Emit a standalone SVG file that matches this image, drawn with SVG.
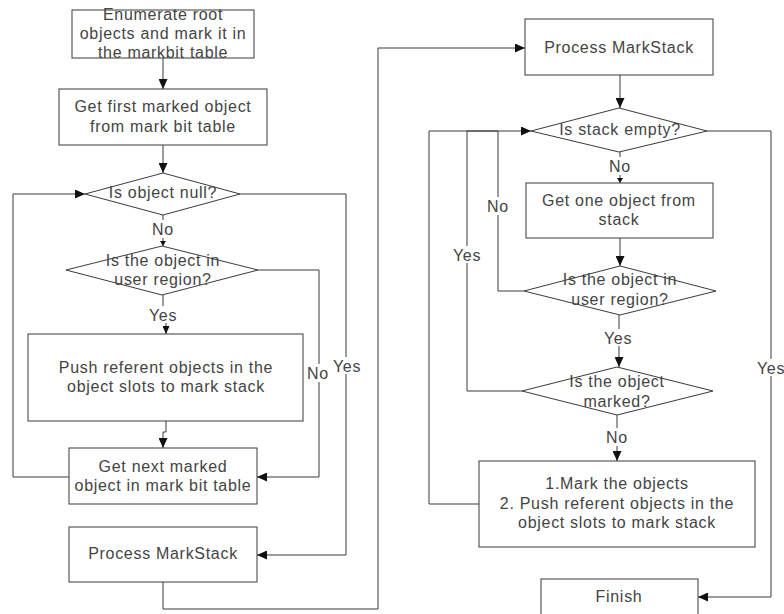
<svg xmlns="http://www.w3.org/2000/svg" width="784" height="614" viewBox="0 0 784 614">
<style>
.n{fill:#fff;stroke:#3a3a3a;stroke-width:1}
.c{fill:none;stroke:#3a3a3a;stroke-width:1}
text{font-family:"Liberation Sans",Arial,sans-serif;font-size:16px;fill:#444;text-anchor:middle;letter-spacing:0.7px}
.bg{fill:#fff;stroke:none}
</style>
<defs>
<marker id="a" markerUnits="userSpaceOnUse" markerWidth="10" markerHeight="9" refX="10" refY="4.5" orient="auto"><path d="M0 0L10 4.5L0 9z" fill="#111"/></marker>
<marker id="s" markerUnits="userSpaceOnUse" markerWidth="5" markerHeight="6" refX="5" refY="3" orient="auto"><path d="M0 0L5 3L0 6z" fill="#111"/></marker>
<marker id="m" markerUnits="userSpaceOnUse" markerWidth="8" markerHeight="7" refX="8" refY="3.5" orient="auto"><path d="M0 0L8 3.5L0 7z" fill="#111"/></marker>
</defs>
<rect width="784" height="614" fill="#fff"/>
<g id="connectors">
<path class="c" d="M163 58V89" marker-end="url(#a)"/>
<path class="c" d="M163 145V173" marker-end="url(#a)"/>
<path class="c" d="M69 477H13V194H85" marker-end="url(#a)"/>
<path class="c" d="M240 194H346V555H257" marker-end="url(#a)"/>
<path class="c" d="M163 215V246" marker-end="url(#s)"/>
<path class="c" d="M258 270H319V477H257" marker-end="url(#a)"/>
<path class="c" d="M163 295V314H166V334" marker-end="url(#m)"/>
<path class="c" d="M166 421V432H163V448" marker-end="url(#a)"/>
<path class="c" d="M163 582V609H378V48H525" marker-end="url(#a)"/>
<path class="c" d="M620 75V108" marker-end="url(#a)"/>
<path class="c" d="M707 131H771V597H698" marker-end="url(#a)"/>
<path class="c" d="M620 152V183" marker-end="url(#s)"/>
<path class="c" d="M620 238V266" marker-end="url(#a)"/>
<path class="c" d="M524 291H498V131H531" marker-end="url(#a)"/>
<path class="c" d="M619 315V367" marker-end="url(#a)"/>
<path class="c" d="M522 391H467V131H498"/>
<path class="c" d="M617 415V461" marker-end="url(#a)"/>
<path class="c" d="M479 504H429V131H498"/>
<g id="labels">
<rect class="bg" x="152" y="220" width="22" height="18"/><text x="163" y="235">No</text>
<rect class="bg" x="148" y="306" width="30" height="17"/><text x="163" y="321">Yes</text>
<rect class="bg" x="307" y="364" width="22" height="18"/><text x="318" y="379">No</text>
<rect class="bg" x="331" y="357" width="30" height="17"/><text x="347" y="372">Yes</text>
<rect class="bg" x="609" y="157" width="22" height="18"/><text x="620" y="172">No</text>
<rect class="bg" x="487" y="197" width="22" height="18"/><text x="498" y="212">No</text>
<rect class="bg" x="452" y="246" width="30" height="17"/><text x="467" y="261">Yes</text>
<rect class="bg" x="603" y="329" width="30" height="17"/><text x="618" y="344">Yes</text>
<rect class="bg" x="756" y="359" width="30" height="17"/><text x="771" y="374">Yes</text>
<rect class="bg" x="606" y="428" width="22" height="18"/><text x="617" y="443">No</text>
</g>
</g>
<g id="n1"><rect class="n" x="72" y="10" width="182" height="48"/><text x="163" y="20">Enumerate root</text><text x="163" y="39">objects and mark it in</text><text x="163" y="58">the markbit table</text></g>
<g id="n2"><rect class="n" x="59" y="89" width="208" height="56"/><text x="163" y="112">Get first marked object</text><text x="163" y="132">from mark bit table</text></g>
<g id="n3"><polygon class="n" points="163,173 240,194 163,215 85,194"/><text x="163" y="198">Is object null?</text></g>
<g id="n4"><polygon class="n" points="162,246 258,270 162,295 66,270"/><text x="163" y="266">Is the object in</text><text x="163" y="285">user region?</text></g>
<g id="n5"><rect class="n" x="28" y="334" width="275" height="87"/><text x="166" y="373">Push referent objects in the</text><text x="166" y="392">object slots to mark stack</text></g>
<g id="n6"><rect class="n" x="69" y="448" width="188" height="56"/><text x="163" y="472">Get next marked</text><text x="163" y="491">object in mark bit table</text></g>
<g id="n7"><rect class="n" x="69" y="527" width="188" height="55"/><text x="163" y="559">Process MarkStack</text></g>
<g id="n8"><rect class="n" x="525" y="19" width="188" height="56"/><text x="619" y="53">Process MarkStack</text></g>
<g id="n9"><polygon class="n" points="619,108 707,131 619,152 531,131"/><text x="620" y="135">Is stack empty?</text></g>
<g id="n10"><rect class="n" x="526" y="183" width="187" height="55"/><text x="619" y="206">Get one object from</text><text x="619" y="225">stack</text></g>
<g id="n11"><polygon class="n" points="620,266 716,291 620,315 524,291"/><text x="620" y="285">Is the object in</text><text x="620" y="305">user region?</text></g>
<g id="n12"><polygon class="n" points="617,367 713,391 617,415 522,391"/><text x="617" y="387">Is the object</text><text x="617" y="407">marked?</text></g>
<g id="n13"><rect class="n" x="479" y="461" width="276" height="86"/><text x="617" y="489">1.Mark the objects</text><text x="617" y="509">2. Push referent objects in the</text><text x="617" y="528">object slots to mark stack</text></g>
<g id="n14"><rect class="n" x="541" y="579" width="157" height="45"/><text x="619" y="602">Finish</text></g>
</svg>
